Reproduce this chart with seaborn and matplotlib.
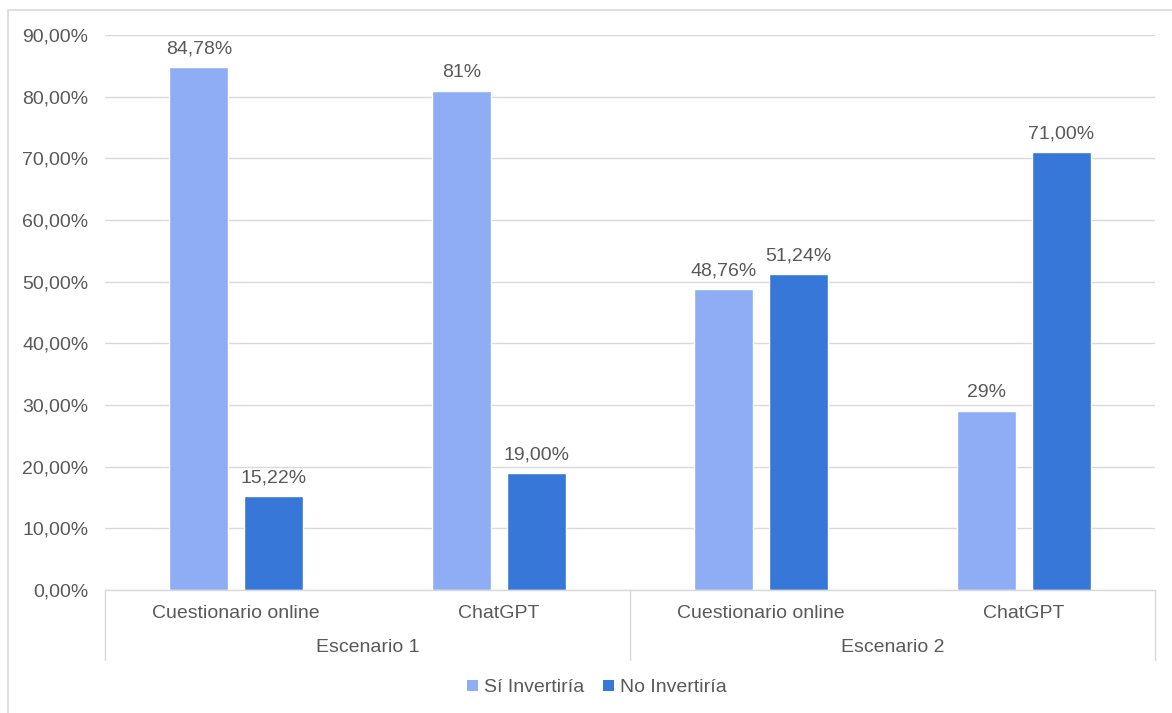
import matplotlib
matplotlib.use("Agg")
import matplotlib.pyplot as plt
import seaborn as sns
import pandas as pd
from matplotlib.patches import Rectangle, Patch

# ---- data ----
scenarios = ["Escenario 1", "Escenario 2"]
subcats = ["Cuestionario online", "ChatGPT", "Cuestionario online", "ChatGPT"]
cat_keys = ["E1-CO", "E1-GPT", "E2-CO", "E2-GPT"]
series_names = ["Sí Invertiría", "No Invertiría"]
si_values = [84.78, 81.0, 48.76, 29.0]
no_values = [15.22, 19.0, 51.24, 71.0]
si_labels = ["84,78%", "81%", "48,76%", "29%"]
no_labels = ["15,22%", "19,00%", "51,24%", "71,00%"]
yticks = [0, 10, 20, 30, 40, 50, 60, 70, 80, 90]
ytick_labels = ["0,00%", "10,00%", "20,00%", "30,00%", "40,00%", "50,00%",
                "60,00%", "70,00%", "80,00%", "90,00%"]

colors = ["#8FADF5", "#3677D7"]
text_color = "#595959"
grid_color = "#D9D9D9"

df = pd.DataFrame({
    "cat": cat_keys * 2,
    "serie": [series_names[0]] * 4 + [series_names[1]] * 4,
    "value": si_values + no_values,
})

sns.set_theme(style="white")
plt.rcParams["font.family"] = ["Liberation Sans", "DejaVu Sans"]

fig = plt.figure(figsize=(11.72, 7.13), dpi=100)
W, H = 1172, 713
ax = fig.add_axes([105 / W, 1 - 590 / H, (1155 - 105) / W, (590 - 35) / H])

sns.barplot(data=df, x="cat", y="value", hue="serie", order=cat_keys,
            hue_order=series_names, palette=colors, width=0.571, gap=0.21,
            saturation=1, ax=ax, legend=False, errorbar=None)

ax.set_xlim(-0.5, 3.5)
ax.set_ylim(0, 90)
ax.set_yticks(yticks)
ax.set_yticklabels(ytick_labels)
ax.tick_params(axis="y", length=0, pad=12, labelsize=14, labelcolor=text_color)
ax.tick_params(axis="x", length=0, pad=11, labelsize=14, labelcolor=text_color)
ax.set_xticks(range(4))
ax.set_xticklabels(subcats)
ax.set_xlabel("")
ax.set_ylabel("")
ax.yaxis.grid(True, color=grid_color, linewidth=1)
ax.set_axisbelow(True)
for s in ["left", "right", "top"]:
    ax.spines[s].set_visible(False)
ax.spines["bottom"].set_color(grid_color)
ax.spines["bottom"].set_linewidth(1)

# bar labels
for cont, labs in zip(ax.containers, [si_labels, no_labels]):
    ax.bar_label(cont, labels=labs, padding=7, fontsize=14, color=text_color)

# group separators and labels
trans = ax.get_xaxis_transform()
sep_bottom = -(660 - 590) / (590 - 35)
for xs in [-0.5, 1.5, 3.5]:
    ax.plot([xs, xs], [0, sep_bottom], transform=trans, color=grid_color,
            linewidth=1, clip_on=False)
for i, name in enumerate(scenarios):
    ax.text(0.5 + 2 * i, -(647 - 590) / (590 - 35), name, transform=trans,
            ha="center", va="center", fontsize=14, color=text_color)

# legend
handles = [Patch(facecolor=c, edgecolor="none") for c in colors]
fig.legend(handles, series_names, loc="center", bbox_to_anchor=(597 / W, 1 - 688 / H),
           ncol=2, frameon=False, fontsize=14, labelcolor=text_color,
           handlelength=0.55, handleheight=0.55, handletextpad=0.3,
           columnspacing=1.0)

# outer border
fig.patches.append(Rectangle((8 / W, -0.01), 1.1, 1 - 10 / H + 0.01,
                             transform=fig.transFigure, fill=False,
                             edgecolor="#D9D9D9", linewidth=1.2))

fig.savefig("out.png", dpi=100)
